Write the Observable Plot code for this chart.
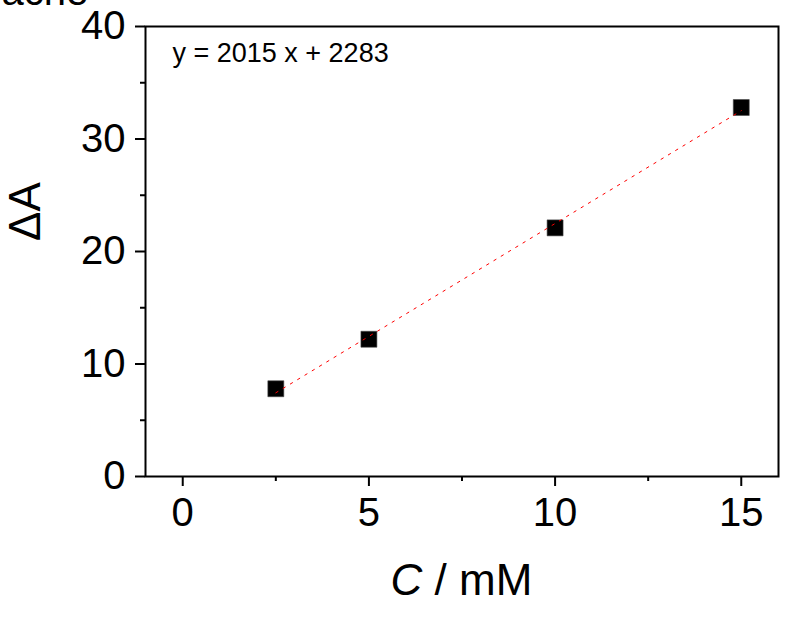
<!DOCTYPE html>
<html>
<head>
<meta charset="utf-8">
<script src="https://cdn.jsdelivr.net/npm/d3@7"></script>
<script src="https://cdn.jsdelivr.net/npm/@observablehq/plot@0.6"></script>
<style>
  html, body { margin: 0; padding: 0; background: #fff; }
  #chart { width: 795px; height: 620px; overflow: hidden; }
</style>
</head>
<body>
<div id="chart"></div>
<script>
// Data
const concentration = [2.5, 5, 10, 15];          // C / mM
const deltaA = [7.8, 12.2, 22.1, 32.8];          // ΔA
const xMajorTicks = [0, 5, 10, 15];
const xMinorTicks = [2.5, 7.5, 12.5];
const yMajorTicks = [0, 10, 20, 30, 40];
const yMinorTicks = [5, 15, 25, 35];
const equationText = "y = 2015 x + 2283";
const clippedTitle = "ache";
const xLabelItalic = "C";
const xLabelRest = " / mM";
const yLabel = "ΔA";

const data = concentration.map((c, i) => ({c, a: deltaA[i]}));
const font = "'Liberation Sans', Arial, Helvetica, sans-serif";

const chart = Plot.plot({
  width: 795,
  height: 620,
  marginLeft: 145,
  marginRight: 17,
  marginTop: 26,
  marginBottom: 144,
  style: {fontFamily: font, color: "black", background: "white", overflow: "hidden"},
  x: {domain: [-1, 16]},
  y: {domain: [0, 40]},
  marks: [
    Plot.frame({stroke: "black", strokeWidth: 2}),
    Plot.axisX({ticks: xMajorTicks, tickSize: 10, tickPadding: 11, fontSize: 40, strokeWidth: 2, label: null, tickFormat: d => String(d)}),
    Plot.axisX({ticks: xMinorTicks, tickSize: 5, strokeWidth: 2, label: null, tickFormat: () => ""}),
    Plot.axisY({ticks: yMajorTicks, tickSize: 10, tickPadding: 10, fontSize: 40, strokeWidth: 2, label: null, tickFormat: d => String(d)}),
    Plot.axisY({ticks: yMinorTicks, tickSize: 5, strokeWidth: 2, label: null, tickFormat: () => ""}),
    Plot.dot(data, {x: "c", y: "a", symbol: "square", r: 9, fill: "black", stroke: "#444", strokeWidth: 0.6}),
    Plot.linearRegressionY(data, {x: "c", y: "a", ci: 0, stroke: "#ff0000", strokeWidth: 1, strokeDasharray: "2.5,6"}),
    Plot.text([equationText], {frameAnchor: "top-left", dx: 27, dy: 35, lineAnchor: "bottom", textAnchor: "start", fontSize: 27, fill: "black"}),
    Plot.text([clippedTitle], {frameAnchor: "top-left", dx: -144, dy: -22, lineAnchor: "bottom", textAnchor: "start", fontSize: 40, fill: "black"}),
    Plot.text([yLabel], {frameAnchor: "left", dx: -120, dy: -40, rotate: -90, lineAnchor: "middle", textAnchor: "middle", fontSize: 44, fill: "black"})
  ]
});

// x-axis label with italic C
const xs = chart.scale("x");
const cx = (xs.range[0] + xs.range[1]) / 2;
const svg = d3.select(chart);
const lbl = svg.append("text")
  .attr("x", cx)
  .attr("y", 595)
  .attr("text-anchor", "middle")
  .attr("font-size", 44)
  .attr("font-family", font)
  .attr("fill", "black");
lbl.append("tspan").attr("font-style", "italic").text(xLabelItalic);
lbl.append("tspan").text(xLabelRest);

document.getElementById("chart").appendChild(chart);
</script>
</body>
</html>
